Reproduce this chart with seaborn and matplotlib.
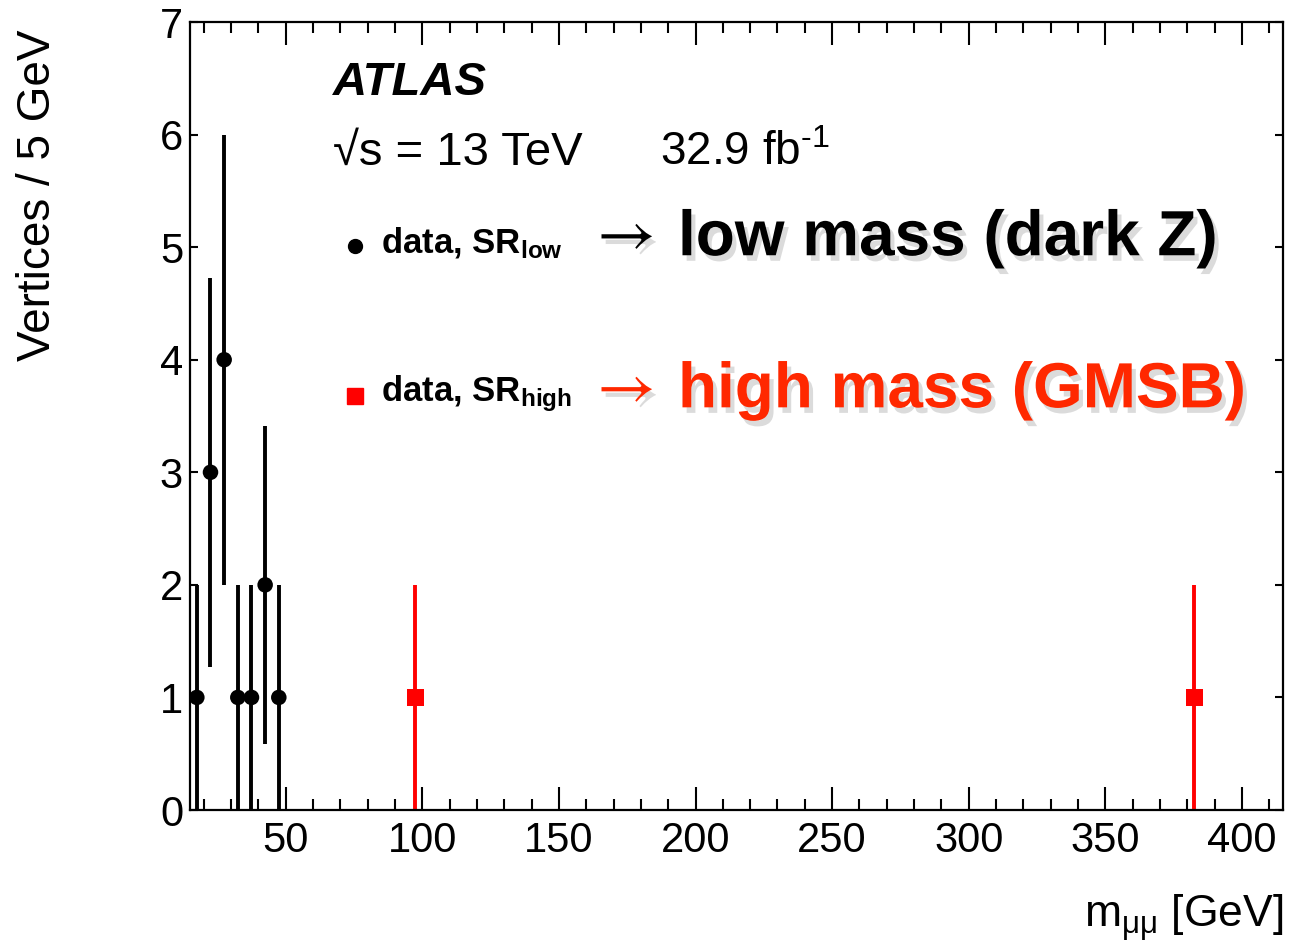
import numpy as np
import pandas as pd
import matplotlib
matplotlib.use("Agg")
import matplotlib.pyplot as plt
import matplotlib.patheffects as pe
from matplotlib.ticker import MultipleLocator
import seaborn as sns

# ---- data ----
low_mass = [17.5, 22.5, 27.5, 32.5, 37.5, 42.5, 47.5]
low_counts = [1, 3, 4, 1, 1, 2, 1]
low_err = [1.0, 1.73, 2.0, 1.0, 1.0, 1.41, 1.0]

high_mass = [97.5, 382.5]
high_counts = [1, 1]
high_err = [1.0, 1.0]

x_ticks = [50, 100, 150, 200, 250, 300, 350, 400]
y_ticks = [0, 1, 2, 3, 4, 5, 6, 7]

sns.set_theme(style="ticks")
plt.rcParams['font.family'] = ['Liberation Sans', 'DejaVu Sans']
plt.rcParams['mathtext.fontset'] = 'custom'
plt.rcParams['mathtext.rm'] = 'Liberation Sans'
plt.rcParams['mathtext.it'] = 'Liberation Sans:italic'
plt.rcParams['mathtext.bf'] = 'Liberation Sans:bold'
for k in ['text.color', 'axes.labelcolor', 'xtick.color', 'ytick.color',
          'xtick.labelcolor', 'ytick.labelcolor', 'axes.edgecolor']:
    plt.rcParams[k] = 'black'

fig = plt.figure(figsize=(12.91, 9.51), dpi=100)
ax = fig.add_axes([190/1291, 1 - 810/951, 1093/1291, 788/951])

df_low = pd.DataFrame({"m": low_mass, "n": low_counts})
df_high = pd.DataFrame({"m": high_mass, "n": high_counts})

ax.errorbar(low_mass, low_counts, yerr=low_err, fmt='none', ecolor='black',
            elinewidth=2.8, capsize=0, zorder=2)
ax.errorbar(high_mass, high_counts, yerr=high_err, fmt='none', ecolor='#ff0000',
            elinewidth=2.8, capsize=0, zorder=2)
sns.scatterplot(data=df_low, x="m", y="n", marker='o', s=125, color='black',
                edgecolor='none', ax=ax, zorder=3)
sns.scatterplot(data=df_high, x="m", y="n", marker='s', s=150, color='#ff0000',
                edgecolor='none', ax=ax, zorder=3)

ax.set_xlim(15, 415)
ax.set_ylim(0, 7)
ax.set_xticks(x_ticks)
ax.set_yticks(y_ticks)
ax.xaxis.set_minor_locator(MultipleLocator(10))
ax.tick_params(axis='both', which='both', direction='in', top=True, right=True,
               width=1.5, colors='black', labelsize=30)
ax.tick_params(axis='x', which='major', length=16.5, pad=8)
ax.tick_params(axis='x', which='minor', length=8)
ax.tick_params(axis='y', which='major', length=5.5, pad=5)
ax.tick_params(axis='y', which='minor', length=0)
for s in ax.spines.values():
    s.set_linewidth(1.6)
    s.set_color('black')

ax.set_xlabel(r"m$_{\mathrm{μμ}}$ [GeV]", fontsize=32, ha='right')
ax.xaxis.set_label_coords(1.0, -0.105)
ax.set_ylabel("Vertices / 5 GeV", fontsize=33, ha='right', va='center')
ax.yaxis.set_label_coords(-0.139, 0.99)

T = ax.transAxes
ax.text(0.1308, 0.907, "ATLAS", transform=T, fontsize=34, fontweight='bold',
        fontstyle='italic', va='baseline', ha='left')
ax.text(0.1308, 0.8185, "√s = 13 TeV", transform=T, fontsize=34,
        va='baseline', ha='left')
ax.text(0.430, 0.8185, r"32.9 fb$^{\mathrm{\text{-}1}}$", transform=T, fontsize=33,
        va='baseline', ha='left')

# legend
ax.plot([0.151], [0.716], 'o', color='black', markersize=10, transform=T, clip_on=False)
ax.plot([0.151], [0.525], 's', color='#ff0000', markersize=11, transform=T, clip_on=False)
ax.text(0.1747, 0.7069, r"data, SR$_{\mathbf{low}}$", transform=T, fontsize=25,
        fontweight='bold', va='baseline', ha='left')
ax.text(0.1747, 0.519, r"data, SR$_{\mathbf{high}}$", transform=T, fontsize=25,
        fontweight='bold', va='baseline', ha='left')

shadow = [pe.withSimplePatchShadow(offset=(3, -4), shadow_rgbFace='#999999', alpha=0.35)]
ax.text(0.3724, 0.727, "→", transform=T, fontsize=46, color='black',
        va='center', ha='left', path_effects=shadow, family=['STIXGeneral'])
ax.text(0.3724, 0.533, "→", transform=T, fontsize=46, color='#ff2800',
        va='center', ha='left', path_effects=shadow, family=['STIXGeneral'])
ax.text(0.4465, 0.704, "low mass (dark Z)", transform=T, fontsize=46, fontweight='bold',
        color='black', va='baseline', ha='left', path_effects=shadow)
ax.text(0.4465, 0.511, "high mass (GMSB)", transform=T, fontsize=46, fontweight='bold',
        color='#ff2800', va='baseline', ha='left', path_effects=shadow)

fig.savefig("out.png", dpi=100)
